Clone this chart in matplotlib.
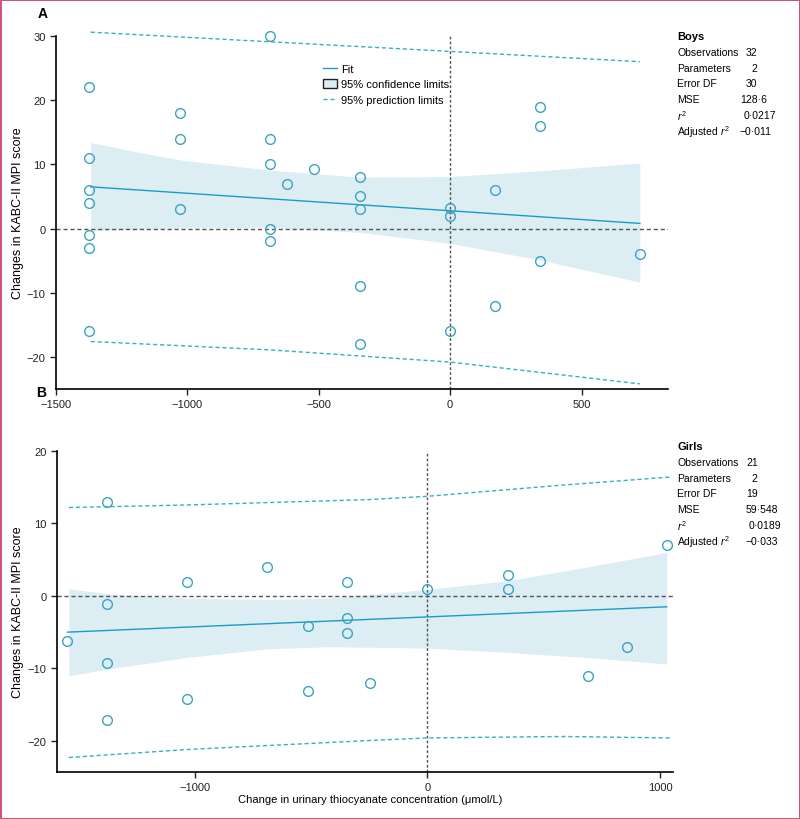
import matplotlib
matplotlib.use('Agg')
import matplotlib.pyplot as plt
from matplotlib.lines import Line2D
from matplotlib.patches import Patch

plt.rcParams['font.family'] = ['Liberation Sans', 'DejaVu Sans']
plt.rcParams['mathtext.fontset'] = 'custom'
plt.rcParams['mathtext.rm'] = 'Liberation Sans'
plt.rcParams['mathtext.it'] = 'Liberation Sans:italic'

# ---- Boys (panel A) ----
boys_x = [-1375, -1375, -1375, -1375, -1375, -1375, -1375,
          -1030, -1030, -1030,
          -687, -687, -687, -687, -687,
          -621, -517,
          -343, -343, -343, -343, -343,
          0, 0, 0,
          170, 170,
          340, 340, 340,
          721]
boys_y = [22, 11, 6, 4, -1, -3, -16,
          18, 14, 3,
          30, 14, 10, 0, -2,
          7, 9.2,
          8, 5, 3, -9, -18,
          3.2, 2, -16,
          6, -12,
          19, 16, -5,
          -4]
boys_fit_x = [-1368, 722]
boys_fit_y = [6.5, 0.8]
boys_band_x = [-1368, -1200, -1029, -687, -342, 0, 342, 722]
boys_cl_up = [13.4, 12.0, 10.7, 9.1, 8.0, 8.1, 9.0, 10.2]
boys_cl_lo = [-0.3, -0.1, 0.1, 0.2, -0.6, -2.3, -4.9, -8.35]
boys_pl_x = [-1368, -687, 0, 722]
boys_pl_up = [30.6, 29.1, 27.6, 26.0]
boys_pl_lo = [-17.6, -18.9, -20.8, -24.2]
boys_stats = [('Observations', '32'), ('Parameters', '2'), ('Error DF', '30'),
              ('MSE', '128·6'), ('$r^2$', '0·0217'), ('Adjusted $r^2$', '−0·011')]

# ---- Girls (panel B) ----
girls_x = [-1548, -1376, -1376, -1376, -1376, -1036, -1036, -689,
           -515, -515, -346, -346, -346, -247, 0, 346, 346, 689, 858, 1029]
girls_y = [-6.25, 13.0, -1.15, -9.2, -17.1, 1.9, -14.2, 4.0,
           -4.2, -13.1, 1.9, -3.1, -5.1, -12.0, 0.9, 2.85, 0.9, -11.1, -7.1, 7.0]
girls_fit_x = [-1548, 1029]
girls_fit_y = [-5.0, -1.5]
girls_band_x = [-1542, -1376, -1036, -689, -419, 0, 346, 689, 1029]
girls_cl_up = [1.0, 0.3, -0.3, -0.5, -0.3, 0.9, 2.1, 4.0, 6.0]
girls_cl_lo = [-11.0, -10.1, -8.5, -7.3, -7.0, -7.2, -7.8, -8.5, -9.4]
girls_pl_x = [-1542, -1036, -247, 0, 584, 1043]
girls_pl_up = [12.2, 12.55, 13.3, 13.75, 15.3, 16.4]
girls_pl_lo = [-22.3, -21.2, -19.95, -19.6, -19.4, -19.6]
girls_stats = [('Observations', '21'), ('Parameters', '2'), ('Error DF', '19'),
               ('MSE', '59·548'), ('$r^2$', '0·0189'), ('Adjusted $r^2$', '−0·033')]

pt_col = '#3aa3c2'
fit_col = '#1a9bc6'
band_col = '#dcedf4'
pred_col = '#35b0c6'
ref_col = '#555555'

fig = plt.figure(figsize=(8, 8.2), dpi=100)
fig.patch.set_edgecolor('#c9577a')
fig.patch.set_linewidth(2)

W, H = 800, 820


def axes_px(l, t, r, b):
    return fig.add_axes([l / W, 1 - b / H, (r - l) / W, (b - t) / H])


def panel(ax, xs, ys, fx, fy, bx, bup, blo, px, pup, plo, xlim, ylim, xticks, yticks):
    ax.fill_between(bx, blo, bup, color=band_col, lw=0, zorder=1)
    ax.axhline(0, color=ref_col, lw=1, ls=(0, (3, 2)), zorder=2)
    ax.axvline(0, color=ref_col, lw=1, ls=(0, (2, 1.5)), zorder=2)
    ax.plot(fx, fy, color=fit_col, lw=1, zorder=3)
    ax.plot(px, pup, color=pred_col, lw=1, ls=(0, (3, 2)), zorder=3, clip_on=False)
    ax.plot(px, plo, color=pred_col, lw=1, ls=(0, (3, 2)), zorder=3, clip_on=False)
    ax.plot(xs, ys, 'o', mfc='none', mec=pt_col, ms=7, mew=1, zorder=4, clip_on=False)
    ax.set_xlim(*xlim)
    ax.set_ylim(*ylim)
    ax.set_xticks(xticks)
    ax.set_yticks(yticks)
    for s in ['top', 'right']:
        ax.spines[s].set_visible(False)
    for s in ['left', 'bottom']:
        ax.spines[s].set_linewidth(1.2)
    ax.spines['left'].set_bounds(ylim[0], yticks[-1])
    ax.tick_params(direction='out', length=4, width=1, labelsize=8, colors='#222222')


axA = axes_px(56, 37, 668, 390)
panel(axA, boys_x, boys_y, boys_fit_x, boys_fit_y, boys_band_x, boys_cl_up, boys_cl_lo,
      boys_pl_x, boys_pl_up, boys_pl_lo, (-1500, 829), (-25, 30),
      [-1500, -1000, -500, 0, 500], [-20, -10, 0, 10, 20, 30])

handles = [Line2D([], [], color=fit_col, lw=1),
           Patch(facecolor=band_col, edgecolor='#222222', lw=1),
           Line2D([], [], color=pred_col, lw=1, ls=(0, (3, 2)))]
axA.legend(handles, ['Fit', '95% confidence limits', '95% prediction limits'],
           loc='upper left', bbox_to_anchor=((317 - 56) / 612, 1 - (59 - 37) / 353),
           frameon=False, fontsize=8, handlelength=1.3, handleheight=0.9,
           handletextpad=0.4, labelspacing=0.45, borderpad=0)

axB = axes_px(57, 452, 673, 773)
panel(axB, girls_x, girls_y, girls_fit_x, girls_fit_y, girls_band_x, girls_cl_up, girls_cl_lo,
      girls_pl_x, girls_pl_up, girls_pl_lo, (-1593, 1056), (-24.3, 20),
      [-1000, 0, 1000], [-20, -10, 0, 10, 20])

fig.text(38 / W, 1 - 14 / H, 'A', fontsize=10, fontweight='bold', va='center')
fig.text(36 / W, 1 - 393 / H, 'B', fontsize=10, fontweight='bold', va='center')
for yc in (213, 612):
    fig.text(18 / W, 1 - yc / H, 'Changes in KABC-II MPI score', rotation=90,
             fontsize=9, ha='center', va='center')
fig.text(370 / W, 1 - 800 / H, 'Change in urinary thiocyanate concentration (μmol/L)',
         fontsize=8, ha='center', va='center')


def stats(title, rows, y0, xs):
    fig.text(677 / W, 1 - y0 / H, title, fontsize=8, fontweight='bold', va='center')
    for i, (k, v) in enumerate(rows):
        y = y0 + 15.8 * (i + 1)
        fig.text(677 / W, 1 - y / H, k, fontsize=7.5, va='center')
        fig.text(xs[i] / W, 1 - y / H, v, fontsize=7.5, va='center')


stats('Boys', boys_stats, 37, [746, 751, 746, 740, 744, 739])
stats('Girls', girls_stats, 447, [746, 751, 746, 746, 749, 746])

fig.savefig('out.png', dpi=100, facecolor='white', edgecolor=fig.get_edgecolor())
